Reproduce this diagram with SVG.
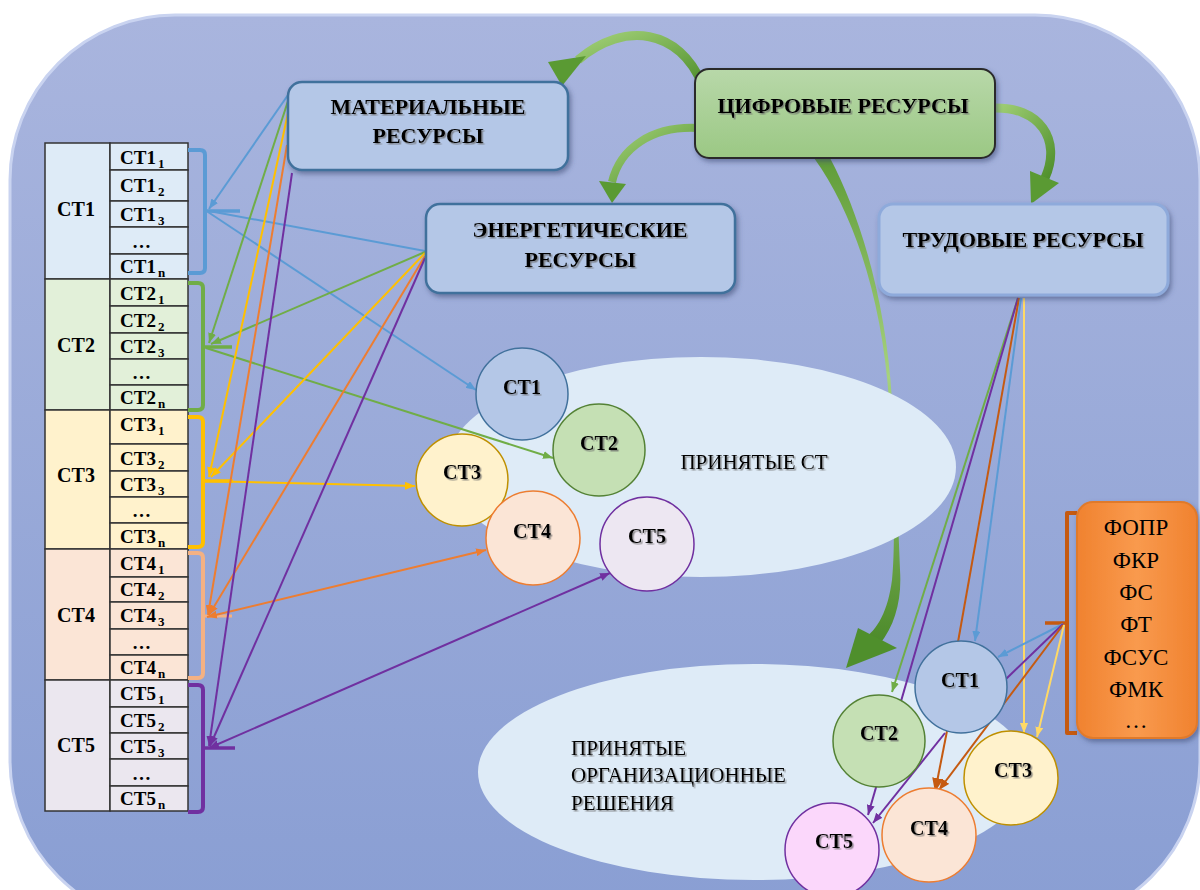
<svg xmlns="http://www.w3.org/2000/svg" width="1200" height="890" viewBox="0 0 1200 890">
<defs>
<linearGradient id="bg" x1="0" y1="0" x2="0" y2="1">
<stop offset="0" stop-color="#a9b5de"/><stop offset="1" stop-color="#899ed3"/>
</linearGradient>
<linearGradient id="gbox" x1="0" y1="0" x2="0" y2="1">
<stop offset="0" stop-color="#b8d8a9"/><stop offset="1" stop-color="#9bc884"/>
</linearGradient>
<linearGradient id="obox" x1="0" y1="0" x2="1" y2="0">
<stop offset="0" stop-color="#f0822f"/><stop offset="0.5" stop-color="#f99a4e"/><stop offset="1" stop-color="#f0822f"/>
</linearGradient>
<linearGradient id="garr" x1="0" y1="0" x2="1" y2="1">
<stop offset="0" stop-color="#a3d178"/><stop offset="1" stop-color="#4f8f2c"/>
</linearGradient>
<linearGradient id="garr4" x1="0" y1="0" x2="0" y2="1">
<stop offset="0" stop-color="#5f9c38"/><stop offset="0.45" stop-color="#a6d27e"/><stop offset="1" stop-color="#4c8a2a"/>
</linearGradient>
<filter id="sh" x="-10%" y="-10%" width="125%" height="130%">
<feDropShadow dx="2" dy="3" stdDeviation="2.5" flood-color="#3a4a70" flood-opacity="0.55"/>
</filter>
<filter id="ts" x="-5%" y="-20%" width="115%" height="150%">
<feDropShadow dx="1.5" dy="1.5" stdDeviation="0.7" flood-color="#666" flood-opacity="0.7"/>
</filter>
<marker id="mb" viewBox="0 0 10 8" refX="10" refY="4" markerWidth="10" markerHeight="8" markerUnits="userSpaceOnUse" orient="auto-start-reverse"><path d="M0,0L10,4L0,8z" fill="#5b9bd5"/></marker>
<marker id="mg" viewBox="0 0 10 8" refX="10" refY="4" markerWidth="10" markerHeight="8" markerUnits="userSpaceOnUse" orient="auto-start-reverse"><path d="M0,0L10,4L0,8z" fill="#70ad47"/></marker>
<marker id="my" viewBox="0 0 10 8" refX="10" refY="4" markerWidth="10" markerHeight="8" markerUnits="userSpaceOnUse" orient="auto-start-reverse"><path d="M0,0L10,4L0,8z" fill="#ffc000"/></marker>
<marker id="myl" viewBox="0 0 10 8" refX="10" refY="4" markerWidth="10" markerHeight="8" markerUnits="userSpaceOnUse" orient="auto-start-reverse"><path d="M0,0L10,4L0,8z" fill="#ffd966"/></marker>
<marker id="mo" viewBox="0 0 10 8" refX="10" refY="4" markerWidth="10" markerHeight="8" markerUnits="userSpaceOnUse" orient="auto-start-reverse"><path d="M0,0L10,4L0,8z" fill="#ed7d31"/></marker>
<marker id="mdo" viewBox="0 0 10 8" refX="10" refY="4" markerWidth="11" markerHeight="9" markerUnits="userSpaceOnUse" orient="auto-start-reverse"><path d="M0,0L10,4L0,8z" fill="#c55a11"/></marker>
<marker id="mdo2" viewBox="0 0 10 8" refX="10" refY="4" markerWidth="14" markerHeight="12" markerUnits="userSpaceOnUse" orient="auto-start-reverse"><path d="M0,0L10,4L0,8z" fill="#c55a11"/></marker>
<marker id="mp" viewBox="0 0 10 8" refX="10" refY="4" markerWidth="10" markerHeight="8" markerUnits="userSpaceOnUse" orient="auto-start-reverse"><path d="M0,0L10,4L0,8z" fill="#7030a0"/></marker>
<style>
.t{font-family:"Liberation Serif","Times New Roman",serif;fill:#000}
.box{font-family:"Liberation Serif","Times New Roman",serif;font-weight:bold;font-size:22px;text-anchor:middle;fill:#000}
.cl{font-family:"Liberation Serif","Times New Roman",serif;font-weight:bold;font-size:20px;text-anchor:middle;fill:#000}
.sub{font-family:"Liberation Serif","Times New Roman",serif;font-weight:bold;font-size:19px;fill:#000}
.grp{font-family:"Liberation Serif","Times New Roman",serif;font-weight:bold;font-size:20px;text-anchor:middle;fill:#000}
.fx{font-family:"Liberation Serif","Times New Roman",serif;font-size:23px;text-anchor:middle;fill:#000}
.el{font-family:"Liberation Serif","Times New Roman",serif;font-size:21px;fill:#000}
.cell{stroke:#333;stroke-width:1.5}
.ln{fill:none;stroke-width:2}
.br{fill:none;stroke-width:4;stroke-linejoin:round}
</style>
</defs>

<rect x="0" y="0" width="1200" height="890" fill="#ffffff"/>
<rect id="background" x="10" y="15" width="1190" height="910" rx="165" ry="165" fill="url(#bg)" stroke="#c9d3f0" stroke-width="3"/>

<!-- big green curved arrows -->
<g id="curved-arrows">
<path d="M 814 158 C 855 215 882 300 889 400 C 893 470 896 540 892 580 C 888 610 878 630 862 640 L 880 644 C 895 625 902 600 900 570 C 898 520 896 460 892 400 C 886 300 860 215 830 158 Z" fill="url(#garr4)"/>
<polygon points="858,628 897,648 846,668" fill="#4f8f2c"/>
<path d="M 702 84 C 680 30 625 20 578 60" fill="none" stroke="url(#garr)" stroke-width="9"/>
<polygon points="548,62 586,56 562,86" fill="#5a9a33"/>
<path d="M 697 128 C 652 126 620 148 612 182" fill="none" stroke="url(#garr)" stroke-width="8"/>
<polygon points="599,181 626,184 612,203" fill="#5a9a33"/>
<path d="M 992 108 C 1040 106 1062 140 1045 178" fill="none" stroke="url(#garr)" stroke-width="9"/>
<polygon points="1030,171 1059,183 1031,204" fill="#5a9a33"/>
</g>

<!-- ellipses -->
<g id="ellipse-accepted-st">
<ellipse cx="701" cy="467" rx="255" ry="110" fill="#deebf7"/>
<text class="el" x="754" y="469" text-anchor="middle" filter="url(#ts)">ПРИНЯТЫЕ СТ</text>
</g>
<g id="ellipse-org-decisions">
<ellipse cx="754" cy="772" rx="276" ry="108" fill="#deebf7"/>
<text class="el" x="571" y="755" filter="url(#ts)">ПРИНЯТЫЕ</text>
<text class="el" x="571" y="782" filter="url(#ts)">ОРГАНИЗАЦИОННЫЕ</text>
<text class="el" x="571" y="810" filter="url(#ts)">РЕШЕНИЯ</text>
</g>

<!-- table -->
<g id="table-st1">
<rect class="cell" x="45" y="143" width="65" height="136" fill="#deebf7"/>
<rect class="cell" x="110" y="143" width="78" height="27" fill="#deebf7"/>
<rect class="cell" x="110" y="170" width="78" height="31" fill="#deebf7"/>
<rect class="cell" x="110" y="201" width="78" height="26" fill="#deebf7"/>
<rect class="cell" x="110" y="227" width="78" height="27" fill="#deebf7"/>
<rect class="cell" x="110" y="254" width="78" height="25" fill="#deebf7"/>
<text class="grp" x="76" y="216">СТ1</text>
<text class="sub" x="120" y="164">СТ1<tspan font-size="13" dx="2" dy="4">1</tspan></text>
<text class="sub" x="120" y="192">СТ1<tspan font-size="13" dx="2" dy="4">2</tspan></text>
<text class="sub" x="120" y="221">СТ1<tspan font-size="13" dx="2" dy="4">3</tspan></text>
<text class="sub" x="132" y="248">…</text>
<text class="sub" x="120" y="273">СТ1<tspan font-size="13" dx="2" dy="4">n</tspan></text>
</g>
<g id="table-st2">
<rect class="cell" x="45" y="279" width="65" height="131" fill="#e2f0d9"/>
<rect class="cell" x="110" y="279" width="78" height="27" fill="#e2f0d9"/>
<rect class="cell" x="110" y="306" width="78" height="27" fill="#e2f0d9"/>
<rect class="cell" x="110" y="333" width="78" height="26" fill="#e2f0d9"/>
<rect class="cell" x="110" y="359" width="78" height="26" fill="#e2f0d9"/>
<rect class="cell" x="110" y="385" width="78" height="25" fill="#e2f0d9"/>
<text class="grp" x="76" y="352">СТ2</text>
<text class="sub" x="120" y="300">СТ2<tspan font-size="13" dx="2" dy="4">1</tspan></text>
<text class="sub" x="120" y="327">СТ2<tspan font-size="13" dx="2" dy="4">2</tspan></text>
<text class="sub" x="120" y="353">СТ2<tspan font-size="13" dx="2" dy="4">3</tspan></text>
<text class="sub" x="132" y="379">…</text>
<text class="sub" x="120" y="404">СТ2<tspan font-size="13" dx="2" dy="4">n</tspan></text>
</g>
<g id="table-st3">
<rect class="cell" x="45" y="410" width="65" height="139" fill="#fff2cc"/>
<rect class="cell" x="110" y="410" width="78" height="34" fill="#fff2cc"/>
<rect class="cell" x="110" y="444" width="78" height="27" fill="#fff2cc"/>
<rect class="cell" x="110" y="471" width="78" height="26" fill="#fff2cc"/>
<rect class="cell" x="110" y="497" width="78" height="26" fill="#fff2cc"/>
<rect class="cell" x="110" y="523" width="78" height="26" fill="#fff2cc"/>
<text class="grp" x="76" y="482">СТ3</text>
<text class="sub" x="120" y="431">СТ3<tspan font-size="13" dx="2" dy="4">1</tspan></text>
<text class="sub" x="120" y="465">СТ3<tspan font-size="13" dx="2" dy="4">2</tspan></text>
<text class="sub" x="120" y="491">СТ3<tspan font-size="13" dx="2" dy="4">3</tspan></text>
<text class="sub" x="132" y="517">…</text>
<text class="sub" x="120" y="543">СТ3<tspan font-size="13" dx="2" dy="4">n</tspan></text>
</g>
<g id="table-st4">
<rect class="cell" x="45" y="549" width="65" height="131" fill="#fbe5d6"/>
<rect class="cell" x="110" y="549" width="78" height="28" fill="#fbe5d6"/>
<rect class="cell" x="110" y="577" width="78" height="25" fill="#fbe5d6"/>
<rect class="cell" x="110" y="602" width="78" height="27" fill="#fbe5d6"/>
<rect class="cell" x="110" y="629" width="78" height="26" fill="#fbe5d6"/>
<rect class="cell" x="110" y="655" width="78" height="25" fill="#fbe5d6"/>
<text class="grp" x="76" y="622">СТ4</text>
<text class="sub" x="120" y="570">СТ4<tspan font-size="13" dx="2" dy="4">1</tspan></text>
<text class="sub" x="120" y="596">СТ4<tspan font-size="13" dx="2" dy="4">2</tspan></text>
<text class="sub" x="120" y="622">СТ4<tspan font-size="13" dx="2" dy="4">3</tspan></text>
<text class="sub" x="132" y="649">…</text>
<text class="sub" x="120" y="674">СТ4<tspan font-size="13" dx="2" dy="4">n</tspan></text>
</g>
<g id="table-st5">
<rect class="cell" x="45" y="680" width="65" height="131" fill="#ebe7ef"/>
<rect class="cell" x="110" y="680" width="78" height="27" fill="#ebe7ef"/>
<rect class="cell" x="110" y="707" width="78" height="26" fill="#ebe7ef"/>
<rect class="cell" x="110" y="733" width="78" height="26" fill="#ebe7ef"/>
<rect class="cell" x="110" y="759" width="78" height="27" fill="#ebe7ef"/>
<rect class="cell" x="110" y="786" width="78" height="25" fill="#ebe7ef"/>
<text class="grp" x="76" y="752">СТ5</text>
<text class="sub" x="120" y="700">СТ5<tspan font-size="13" dx="2" dy="4">1</tspan></text>
<text class="sub" x="120" y="727">СТ5<tspan font-size="13" dx="2" dy="4">2</tspan></text>
<text class="sub" x="120" y="753">СТ5<tspan font-size="13" dx="2" dy="4">3</tspan></text>
<text class="sub" x="132" y="780">…</text>
<text class="sub" x="120" y="805">СТ5<tspan font-size="13" dx="2" dy="4">n</tspan></text>
</g>

<!-- brackets -->
<g id="brackets">
<path class="br" stroke="#5b9bd5" d="M188 150 H200 Q205 150 205 155 V268 Q205 273 200 273 H188"/>
<line x1="205" y1="211" x2="240" y2="211" stroke="#5b9bd5" stroke-width="3.5"/>
<path class="br" stroke="#70ad47" d="M188 283 H198 Q203 283 203 288 V405 Q203 410 198 410 H188"/>
<line x1="203" y1="347" x2="232" y2="347" stroke="#70ad47" stroke-width="3.5"/>
<path class="br" stroke="#ffc000" d="M188 417 H198 Q203 417 203 422 V542 Q203 547 198 547 H188"/>
<line x1="203" y1="481" x2="233" y2="481" stroke="#ffc000" stroke-width="3.5"/>
<path class="br" stroke="#f4b183" stroke-width="3" d="M188 553 H198 Q203 553 203 558 V673 Q203 678 198 678 H188"/>
<line x1="203" y1="616" x2="232" y2="616" stroke="#f4b183" stroke-width="3"/>
<path class="br" stroke="#7030a0" d="M188 685 H198 Q203 685 203 690 V807 Q203 812 198 812 H188"/>
<line x1="203" y1="748" x2="235" y2="748" stroke="#7030a0" stroke-width="3.5"/>
<path class="br" stroke="#c55a11" stroke-width="3.5" d="M1077 513 H1067 V733 H1077"/>
<line x1="1045" y1="623" x2="1067" y2="623" stroke="#c55a11" stroke-width="3.5"/>
</g>

<!-- connectors -->
<g id="connectors">
<line class="ln" stroke="#5b9bd5" x1="288" y1="95" x2="209" y2="209" marker-end="url(#mb)"/>
<line class="ln" stroke="#5b9bd5" x1="425" y1="251" x2="209" y2="211"/>
<line class="ln" stroke="#5b9bd5" x1="208" y1="212" x2="476" y2="390" marker-end="url(#mb)"/>
<line class="ln" stroke="#70ad47" x1="289" y1="98" x2="209" y2="343" marker-end="url(#mg)"/>
<line class="ln" stroke="#70ad47" x1="425" y1="252" x2="211" y2="344" marker-end="url(#mg)"/>
<line class="ln" stroke="#70ad47" x1="206" y1="348" x2="553" y2="458" marker-end="url(#mg)"/>
<line class="ln" stroke="#ffc000" x1="288" y1="113" x2="209" y2="477" marker-end="url(#my)"/>
<line class="ln" stroke="#ffc000" x1="425" y1="253" x2="211" y2="477" marker-end="url(#my)"/>
<line class="ln" stroke="#ffc000" x1="205" y1="481" x2="415" y2="486" marker-end="url(#my)"/>
<line class="ln" stroke="#ed7d31" x1="287" y1="145" x2="208" y2="615" marker-end="url(#mo)"/>
<line class="ln" stroke="#ed7d31" x1="425" y1="256" x2="209" y2="615" marker-end="url(#mo)"/>
<line class="ln" stroke="#ed7d31" x1="207" y1="617" x2="486" y2="550" marker-start="url(#mo)" marker-end="url(#mo)"/>
<line class="ln" stroke="#7030a0" x1="292" y1="173" x2="209" y2="746" marker-end="url(#mp)"/>
<line class="ln" stroke="#7030a0" x1="425" y1="258" x2="210" y2="746" marker-end="url(#mp)"/>
<line class="ln" stroke="#7030a0" x1="209" y1="748" x2="610" y2="573" marker-start="url(#mp)" marker-end="url(#mp)"/>

<line class="ln" stroke="#70ad47" x1="1018" y1="298" x2="892" y2="692" marker-end="url(#mg)"/>
<line class="ln" stroke="#7030a0" x1="1018" y1="298" x2="868" y2="815" marker-end="url(#mp)"/>
<line class="ln" stroke="#c55a11" x1="1019" y1="298" x2="958" y2="642"/>
<line class="ln" stroke="#5b9bd5" x1="1021" y1="298" x2="975" y2="641" marker-end="url(#mb)"/>
<line class="ln" stroke="#ffd966" x1="1024" y1="298" x2="1024" y2="733" marker-end="url(#myl)"/>
<line class="ln" stroke="#5b9bd5" x1="1063" y1="624" x2="998" y2="657" marker-end="url(#mb)"/>
<line class="ln" stroke="#7030a0" x1="1063" y1="624" x2="1006" y2="679"/>
<line class="ln" stroke="#c55a11" x1="1063" y1="625" x2="939" y2="790" marker-end="url(#mdo)"/>
<line class="ln" stroke="#ffd966" x1="1064" y1="625" x2="1037" y2="737" marker-end="url(#myl)"/>
<line class="ln" stroke="#c55a11" stroke-width="4" x1="947" y1="731" x2="935" y2="792" marker-end="url(#mdo2)"/>
<line class="ln" stroke="#7030a0" x1="945" y1="733" x2="873" y2="823" marker-end="url(#mp)"/>
</g>

<!-- resource boxes -->
<g id="box-material">
<rect x="288" y="82" width="280" height="88" rx="14" fill="#b4c7e7" stroke="#41719c" stroke-width="2.5" filter="url(#sh)"/>
<text class="box" x="428" y="114" filter="url(#ts)">МАТЕРИАЛЬНЫЕ</text>
<text class="box" x="428" y="143" filter="url(#ts)">РЕСУРСЫ</text>
</g>
<g id="box-energy">
<rect x="426" y="204" width="309" height="89" rx="14" fill="#b4c7e7" stroke="#41719c" stroke-width="2.5" filter="url(#sh)"/>
<text class="box" x="580" y="237" filter="url(#ts)">ЭНЕРГЕТИЧЕСКИЕ</text>
<text class="box" x="580" y="267" filter="url(#ts)">РЕСУРСЫ</text>
</g>
<g id="box-digital">
<rect x="695" y="69" width="300" height="89" rx="14" fill="url(#gbox)" stroke="#2b2b2b" stroke-width="2" filter="url(#sh)"/>
<text class="box" x="843" y="113" filter="url(#ts)">ЦИФРОВЫЕ РЕСУРСЫ</text>
</g>
<g id="box-labor">
<rect x="879" y="204" width="289" height="91" rx="14" fill="#b4c7e7" stroke="#8eaadb" stroke-width="3" filter="url(#sh)"/>
<text class="box" x="1023" y="247" filter="url(#ts)">ТРУДОВЫЕ РЕСУРСЫ</text>
</g>
<g id="box-factors">
<rect x="1077" y="502" width="120" height="236" rx="16" fill="url(#obox)" stroke="#e07a2a" stroke-width="2" filter="url(#sh)"/>
<text class="fx" x="1136" y="535">ФОПР</text>
<text class="fx" x="1136" y="568">ФКР</text>
<text class="fx" x="1136" y="600">ФС</text>
<text class="fx" x="1136" y="632">ФТ</text>
<text class="fx" x="1136" y="665">ФСУС</text>
<text class="fx" x="1136" y="697">ФМК</text>
<text class="fx" x="1136" y="728">…</text>
</g>

<!-- accepted ST circles -->
<g id="accepted-st1"><circle cx="522" cy="394" r="46" fill="#b4c7e7" stroke="#41719c" stroke-width="1.5"/><text class="cl" x="522" y="394" filter="url(#ts)">СТ1</text></g>
<g id="accepted-st2"><circle cx="599" cy="450" r="46" fill="#c5e0b4" stroke="#548235" stroke-width="1.5"/><text class="cl" x="599" y="450" filter="url(#ts)">СТ2</text></g>
<g id="accepted-st3"><circle cx="462" cy="480" r="46" fill="#fff2cc" stroke="#bf9000" stroke-width="1.5"/><text class="cl" x="462" y="479" filter="url(#ts)">СТ3</text></g>
<g id="accepted-st4"><circle cx="533" cy="538" r="47" fill="#fbe5d6" stroke="#ed7d31" stroke-width="1.5"/><text class="cl" x="532" y="538" filter="url(#ts)">СТ4</text></g>
<g id="accepted-st5"><circle cx="647" cy="544" r="47" fill="#ede7f2" stroke="#7030a0" stroke-width="1.5"/><text class="cl" x="647" y="543" filter="url(#ts)">СТ5</text></g>

<!-- decision circles -->
<g id="decision-st1"><circle cx="961" cy="687" r="46" fill="#b4c7e7" stroke="#41719c" stroke-width="1.5"/><text class="cl" x="960" y="687" filter="url(#ts)">СТ1</text></g>
<g id="decision-st2"><circle cx="879" cy="741" r="46" fill="#c5e0b4" stroke="#548235" stroke-width="1.5"/><text class="cl" x="879" y="740" filter="url(#ts)">СТ2</text></g>
<g id="decision-st3"><circle cx="1011" cy="778" r="47" fill="#fff2cc" stroke="#bf9000" stroke-width="1.5"/><text class="cl" x="1013" y="777" filter="url(#ts)">СТ3</text></g>
<g id="decision-st4"><circle cx="929" cy="835" r="47" fill="#fbe5d6" stroke="#ed7d31" stroke-width="1.5"/><text class="cl" x="929" y="835" filter="url(#ts)">СТ4</text></g>
<g id="decision-st5"><circle cx="832" cy="850" r="47" fill="#fbd7fb" stroke="#7030a0" stroke-width="1.5"/><text class="cl" x="834" y="848" filter="url(#ts)">СТ5</text></g>
</svg>
